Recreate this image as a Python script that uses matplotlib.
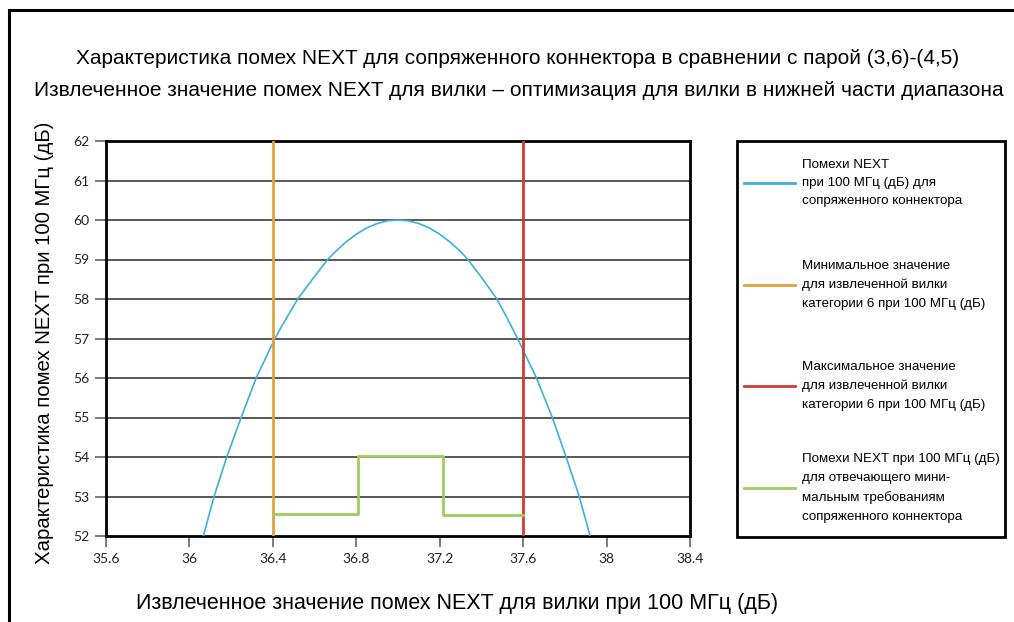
import numpy as np
import matplotlib.pyplot as plt
from matplotlib.lines import Line2D
from matplotlib.patches import Rectangle

plt.rcParams['font.family'] = ['Liberation Sans', 'DejaVu Sans']

# NEXT curve for mated connector
curve_x = [36.067, 36.118, 36.179, 36.248, 36.32, 36.41, 36.45, 36.519, 36.6, 36.663,
           36.7, 36.75, 36.8, 36.85, 36.9, 36.95, 37.0, 37.05, 37.1, 37.15, 37.2,
           37.25, 37.3, 37.335, 37.4, 37.474, 37.52, 37.573, 37.664, 37.74, 37.806,
           37.869, 37.921]
curve_y = [52, 53, 54, 55, 56, 57, 57.38, 58, 58.57, 59,
           59.2, 59.44, 59.64, 59.8, 59.91, 59.98, 60, 59.98, 59.91, 59.8, 59.64,
           59.44, 59.2, 59, 58.55, 58, 57.55, 57, 56, 55, 54,
           53, 52]

# min / max limits for the plug
x_min_plug = 36.4
x_max_plug = 37.6

# compliant connector step line
step_x = [36.4, 36.81, 36.81, 37.215, 37.215, 37.6]
step_y = [52.55, 52.55, 54.03, 54.03, 52.53, 52.53]

x_ticks = [35.6, 36, 36.4, 36.8, 37.2, 37.6, 38, 38.4]
x_ticklabels = ['35.6', '36', '36.4', '36.8', '37.2', '37.6', '38', '38.4']
y_ticks = list(range(52, 63))

labels = ['Помехи NEXT\nпри 100 МГц (дБ) для\nсопряженного коннектора',
          'Минимальное значение\nдля извлеченной вилки\nкатегории 6 при 100 МГц (дБ)',
          'Максимальное значение\nдля извлеченной вилки\nкатегории 6 при 100 МГц (дБ)',
          'Помехи NEXT при 100 МГц (дБ)\nдля отвечающего мини-\nмальным требованиям\nсопряженного коннектора']

c_blue = '#3cb1d9'
c_orange = '#e1a23e'
c_red = '#d03a3a'
c_green = '#9dcd5b'
colors = [c_blue, c_orange, c_red, c_green]

W, H = 1014, 622
fig = plt.figure(figsize=(W/100, H/100), dpi=100)
ax = fig.add_axes([106/W, 1-536/H, 584/W, 395/H])

for yv in y_ticks[1:-1]:
    ax.axhline(yv, color='#4a4a4a', lw=1.3, zorder=1)

ax.plot(curve_x, curve_y, color=c_blue, lw=1.2, zorder=3)
ax.axvline(x_min_plug, color=c_orange, lw=2, zorder=3)
ax.axvline(x_max_plug, color=c_red, lw=2, zorder=3)
ax.plot(step_x, step_y, color=c_green, lw=2, zorder=3)

ax.set_xlim(35.6, 38.4)
ax.set_ylim(52, 62)
ax.set_xticks(x_ticks)
ax.set_xticklabels(x_ticklabels)
ax.set_yticks(y_ticks)
for s in ax.spines.values():
    s.set_linewidth(2)
    s.set_color('black')
ax.tick_params(direction='out', length=8, width=1.2, color='#666666',
               labelsize=10, labelcolor='#222222', pad=4)
for t in ax.get_xticklabels() + ax.get_yticklabels():
    t.set_family(['Lato', 'DejaVu Sans'])

fig.text(518/W, 1-58/H, 'Характеристика помех NEXT для сопряженного коннектора в сравнении с парой (3,6)-(4,5)',
         ha='center', va='center', fontsize=15)
fig.text(519/W, 1-91/H, 'Извлеченное значение помех NEXT для вилки – оптимизация для вилки в нижней части диапазона',
         ha='center', va='center', fontsize=15)
fig.text(457/W, 1-604/H, 'Извлеченное значение помех NEXT для вилки при 100 МГц (дБ)',
         ha='center', va='center', fontsize=15.5)
fig.text(45/W, 1-343/H, 'Характеристика помех NEXT при 100 МГц (дБ)',
         ha='center', va='center', fontsize=14.7, rotation=90)

# legend box, drawn by hand
fig.add_artist(Rectangle((737/W, 1-537/H), 268/W, 396/H, transform=fig.transFigure,
                         fill=False, edgecolor='black', lw=2))
entry_y = [183, 285, 386, 488]
for lab, col, yy in zip(labels, colors, entry_y):
    fig.add_artist(Line2D([744/W, 795/W], [1-yy/H, 1-yy/H], color=col, lw=2))
    fig.text(802/W, 1-yy/H, lab, ha='left', va='center', fontsize=9.6,
             linespacing=1.72)

# figure border (left and top only)
fig.add_artist(Line2D([9/W, 9/W], [0, 1-10/H], color='black', lw=2.2))
fig.add_artist(Line2D([9/W, 1], [1-10/H, 1-10/H], color='black', lw=2.2))

fig.savefig('out.png', dpi=100)
